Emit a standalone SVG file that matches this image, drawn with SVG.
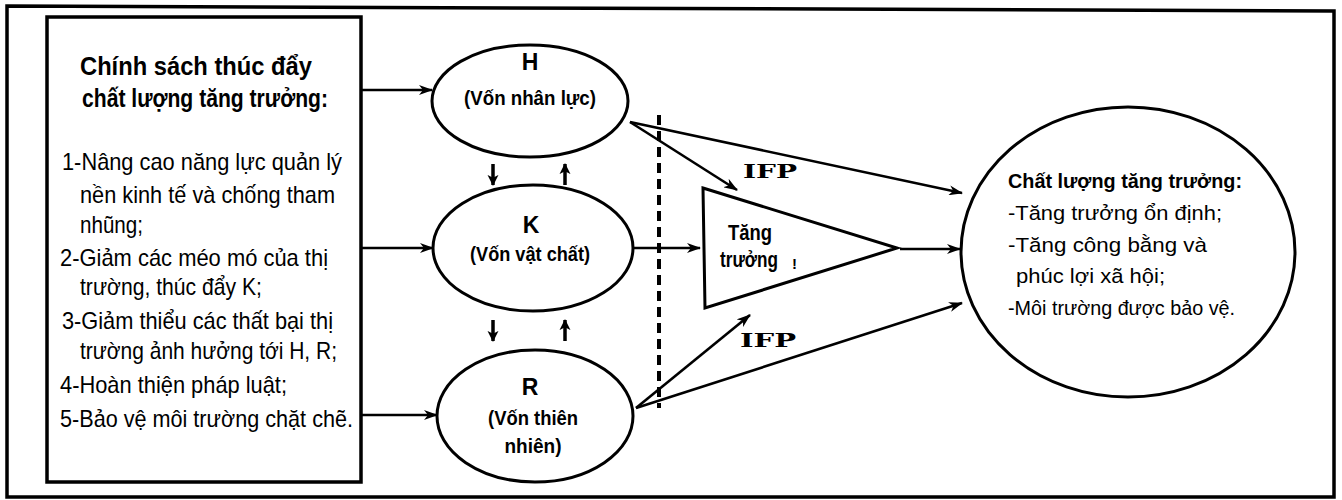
<svg xmlns="http://www.w3.org/2000/svg" width="1342" height="500" viewBox="0 0 1342 500">
<style>
  .frame { fill: none; stroke: #000; stroke-width: 3.5; }
  .node { fill: #fff; stroke: #000; stroke-width: 3; }
  .conn { fill: none; stroke: #000; stroke-width: 2.6; }
  .small { fill: none; stroke: #000; stroke-width: 3.5; }
  .dash { fill: none; stroke: #000; stroke-width: 4; stroke-dasharray: 10 6; }
  text { font-family: "Liberation Sans", Arial, sans-serif; fill: #000; }
  .hd { font-size: 25px; font-weight: bold; }
  .li { font-size: 24px; }
  .nl { font-size: 23px; font-weight: bold; text-anchor: middle; }
  .ns { font-size: 21px; font-weight: bold; text-anchor: middle; }
  .tr { font-size: 22px; font-weight: bold; }
  .ifp { font-family: "DejaVu Serif", "Liberation Serif", serif; font-size: 18px; font-weight: bold; }
  .ch { font-size: 20px; font-weight: bold; }
  .cl { font-size: 21px; }
</style>
<defs>
  <marker id="ah" viewBox="0 0 14 10" refX="13" refY="5" markerWidth="14" markerHeight="10" markerUnits="userSpaceOnUse" orient="auto">
    <path d="M0,0 L14,5 L0,10 L4,5 Z" fill="#000"/>
  </marker>
  <marker id="sh" viewBox="0 0 12 12" refX="11" refY="6" markerWidth="11" markerHeight="14" markerUnits="userSpaceOnUse" orient="auto">
    <path d="M0,0 L12,6 L0,12 L3,6 Z" fill="#000"/>
  </marker>
</defs>

<path id="outer" class="frame" d="M7,6 L1334,11 L1334,497 L7,497 Z"/>

<g id="policy">
  <rect x="47" y="17" width="314" height="465" class="frame"/>
  <text class="hd" x="80" y="75" textLength="232" lengthAdjust="spacingAndGlyphs">Chính sách thúc đẩy</text>
  <text class="hd" x="82" y="107" textLength="246" lengthAdjust="spacingAndGlyphs">chất lượng tăng trưởng:</text>
  <text class="li" x="62" y="170" textLength="280" lengthAdjust="spacingAndGlyphs">1-Nâng cao năng lực quản lý</text>
  <text class="li" x="80" y="203" textLength="255" lengthAdjust="spacingAndGlyphs">nền kinh tế và chống tham</text>
  <text class="li" x="80" y="233" textLength="63" lengthAdjust="spacingAndGlyphs">nhũng;</text>
  <text class="li" x="60" y="266" textLength="268" lengthAdjust="spacingAndGlyphs">2-Giảm các méo mó của thị</text>
  <text class="li" x="80" y="295" textLength="182" lengthAdjust="spacingAndGlyphs">trường, thúc đẩy K;</text>
  <text class="li" x="62" y="329" textLength="271" lengthAdjust="spacingAndGlyphs">3-Giảm thiểu các thất bại thị</text>
  <text class="li" x="80" y="359" textLength="257" lengthAdjust="spacingAndGlyphs">trường ảnh hưởng tới H, R;</text>
  <text class="li" x="60" y="393" textLength="227" lengthAdjust="spacingAndGlyphs">4-Hoàn thiện pháp luật;</text>
  <text class="li" x="60" y="427" textLength="293" lengthAdjust="spacingAndGlyphs">5-Bảo vệ môi trường chặt chẽ.</text>
</g>

<g id="H">
  <ellipse cx="530" cy="101" rx="98" ry="56" class="node"/>
  <text class="nl" x="530" y="70">H</text>
  <text class="ns" x="530" y="105" textLength="132" lengthAdjust="spacingAndGlyphs">(Vốn nhân lực)</text>
</g>

<g id="K">
  <ellipse cx="533" cy="248" rx="100" ry="63" class="node"/>
  <text class="nl" x="531" y="233">K</text>
  <text class="ns" x="530" y="261" textLength="120" lengthAdjust="spacingAndGlyphs">(Vốn vật chất)</text>
</g>

<g id="R">
  <ellipse cx="535" cy="416" rx="98" ry="66" class="node"/>
  <text class="nl" x="530" y="395">R</text>
  <text class="ns" x="533" y="425" textLength="90" lengthAdjust="spacingAndGlyphs">(Vốn thiên</text>
  <text class="ns" x="533" y="453" textLength="57" lengthAdjust="spacingAndGlyphs">nhiên)</text>
</g>

<g id="growth">
  <path d="M703,188 L897,248 L705,308 Z" class="node" stroke-linejoin="miter"/>
  <text class="tr" x="728" y="240" textLength="44" lengthAdjust="spacingAndGlyphs">Tăng</text>
  <text class="tr" x="720" y="267" textLength="58" lengthAdjust="spacingAndGlyphs">trưởng</text>
  <text x="792" y="269" font-size="15" font-weight="bold">!</text>
</g>

<g id="quality">
  <ellipse cx="1128" cy="252" rx="167" ry="145" class="node"/>
  <text class="ch" x="1008" y="188" textLength="234" lengthAdjust="spacingAndGlyphs">Chất lượng tăng trưởng:</text>
  <text class="cl" x="1008" y="220" textLength="214" lengthAdjust="spacingAndGlyphs">-Tăng trưởng ổn định;</text>
  <text class="cl" x="1008" y="252" textLength="199" lengthAdjust="spacingAndGlyphs">-Tăng công bằng và</text>
  <text class="cl" x="1016" y="283" textLength="149" lengthAdjust="spacingAndGlyphs">phúc lợi xã hội;</text>
  <text class="cl" x="1008" y="315" textLength="227" lengthAdjust="spacingAndGlyphs">-Môi trường được bảo vệ.</text>
</g>

<g id="connectors">
  <line x1="361" y1="90" x2="432" y2="90" class="conn" marker-end="url(#ah)"/>
  <line x1="361" y1="248" x2="433" y2="248" class="conn" marker-end="url(#ah)"/>
  <line x1="361" y1="415" x2="437" y2="415" class="conn" marker-end="url(#ah)"/>

  <line x1="493" y1="164" x2="493" y2="185" class="small" marker-end="url(#sh)"/>
  <line x1="565" y1="185" x2="565" y2="164" class="small" marker-end="url(#sh)"/>
  <line x1="493" y1="320" x2="493" y2="341" class="small" marker-end="url(#sh)"/>
  <line x1="565" y1="341" x2="565" y2="320" class="small" marker-end="url(#sh)"/>

  <line x1="659" y1="115" x2="659" y2="408" class="dash"/>

  <line x1="630" y1="122" x2="962" y2="193" class="conn" marker-end="url(#ah)"/>
  <line x1="630" y1="122" x2="737" y2="190" class="conn" marker-end="url(#ah)"/>
  <line x1="634" y1="248" x2="700" y2="248" class="conn" marker-end="url(#ah)"/>
  <line x1="900" y1="249" x2="960" y2="249" class="conn" marker-end="url(#ah)"/>
  <line x1="636" y1="408" x2="750" y2="315" class="conn" marker-end="url(#ah)"/>
  <line x1="636" y1="408" x2="962" y2="303" class="conn" marker-end="url(#ah)"/>

  <text class="ifp" x="743" y="178" textLength="54" lengthAdjust="spacingAndGlyphs">IFP</text>
  <text class="ifp" x="740" y="347" textLength="56" lengthAdjust="spacingAndGlyphs">IFP</text>
</g>
</svg>
